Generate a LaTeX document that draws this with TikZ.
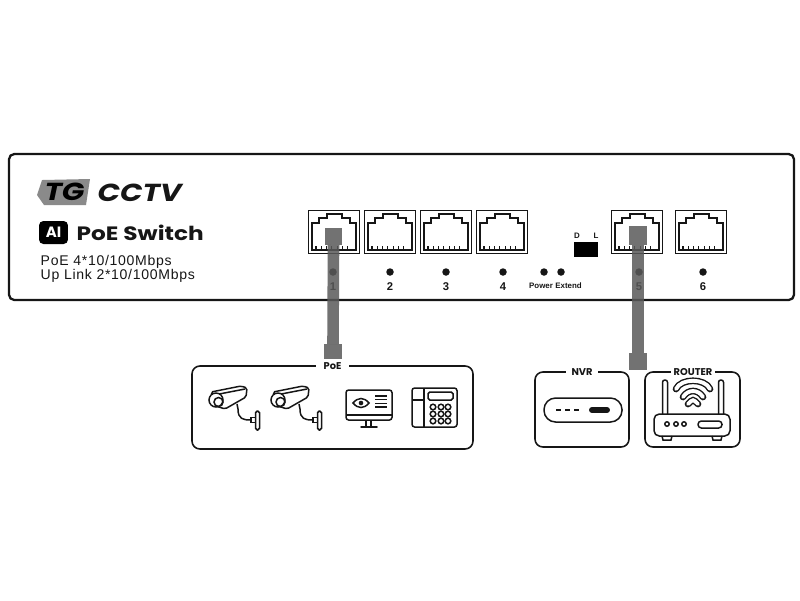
\documentclass[tikz,border=0pt]{standalone}
\usepackage{fontspec}
\setmainfont{Liberation Sans}
\newfontfamily\logofont[FakeStretch=1.2]{Poppins}
\newfontfamily\tagfont{Poppins}
\usetikzlibrary{positioning, calc}
\definecolor{cink}{HTML}{161616}
\definecolor{cplug}{HTML}{595959}
\definecolor{cbadge}{HTML}{8A8A8A}
\tikzset{
  every picture/.style={x=0.02cm, y=-0.02cm, line width=0.85pt, draw=cink, text=cink},
  frame/.style={draw=cink, line width=0.9pt, rounded corners=4.5pt},
  portbox/.style={draw=cink, line width=0.9pt, minimum width=1.02cm, minimum height=0.86cm, inner sep=0pt, outer sep=0pt},
  led/.style={circle, fill=cink, minimum size=0.15cm, inner sep=0pt},
  num/.style={font=\bfseries\fontsize{6.4}{7}\selectfont, inner sep=0pt},
  tiny/.style={font=\bfseries\fontsize{4.5}{5}\selectfont, inner sep=0pt},
  tag/.style={font=\tagfont\bfseries\fontsize{5.6}{6}\selectfont, fill=white, inner sep=0pt, minimum height=0.2cm},
  plug/.style={fill=cplug, opacity=0.85, inner sep=0pt, outer sep=0pt},
  cable/.style={draw=cplug, opacity=0.85, line width=6.6pt},
  spec/.style={font=\fontsize{8}{9}\addfontfeature{LetterSpace=5}\selectfont, inner sep=0pt, anchor=west},
  pics/rjport/.style={code={
    \draw[line width=0.7pt] (-22,18) -- (-22,-9) -- (-15,-9) -- (-15,-14) -- (-7,-14) -- (-7,-18) -- (8,-18) -- (8,-14) -- (16,-14) -- (16,-9) -- (22,-9) -- (22,18) -- cycle;
    \foreach \t in {-18,-12.7,...,19} { \draw[line width=0.6pt] (\t,18) -- (\t,14); }
  }},
  pics/camera/.style={code={
    \draw (29,18) -- (30,23) .. controls (30,33) and (35,34) .. (43,34);
    \draw[fill=white, rounded corners=1pt] (3,6) -- (33,0) -- (39,2) -- (38,11) -- (17,23) -- (8,20) -- cycle;
    \draw (6,9) -- (37,3);
    \draw[fill=white] (8,14) circle (7);
    \draw (10.5,16) circle (4.5);
    \draw[fill=white] (43,31.5) rectangle (48,36.5);
    \draw[fill=white, rounded corners=1pt] (47.5,25) rectangle (51.5,44);
  }},
}

\begin{document}
\begin{tikzpicture}
  \useasboundingbox (0,0) rectangle (800,600);
  % switch front panel
  \draw[frame, line width=1.3pt, rounded corners=3pt] (9,154) rectangle (794,300);
  \draw[fill=cbadge, draw=none] (42,180) -- (90,179) -- (86,205) -- (44,205) -- (37,195) -- cycle;
  \node[font=\logofont\bfseries\itshape\fontsize{14}{15}\selectfont, text=black, inner sep=0pt] (tg) at (64.5,192) {TG};
  \node[font=\logofont\bfseries\itshape\fontsize{14}{15}\selectfont, inner sep=0pt, anchor=west] (cctv) at (97,193) {CCTV};
  \node[fill=black, rounded corners=2.5pt, minimum width=0.58cm, minimum height=0.46cm, inner sep=0pt, text=white, font=\tagfont\bfseries\fontsize{8.5}{9}\selectfont] (ai) at (53.5,232.5) {AI};
  \node[font=\logofont\bfseries\fontsize{11}{12}\selectfont, inner sep=0pt, anchor=west] (title) at (76,233) {PoE Switch};
  \node[spec] (specA) at (40,261.5) {PoE 4*10/100Mbps};
  \node[spec] (specB) at (40,275.5) {Up Link 2*10/100Mbps};
  % ports, lamps and numbers
  \foreach \x/\lx/\i in {334/333/1, 390/390/2, 446/446/3, 502/503/4, 637/639/5, 701/703/6} {
    \node[portbox] (p\i) at (\x,232) {};
    \pic at (p\i) {rjport};
    \node[led] (l\i) at (\lx,272) {};
    \node[num] (n\i) at (\lx,287) {\i};
  }
  \node[led] (power) at (544,272) {};
  \node[led] (extend) at (561,272) {};
  \node[tiny] (powertxt) at (541,286) {Power};
  \node[tiny] (extendtxt) at (568.5,286) {Extend};
  \node[fill=black, minimum width=0.48cm, minimum height=0.3cm, inner sep=0pt] (dip) at (586,249.5) {};
  \node[tiny] (dtxt) at (577,236) {D};
  \node[tiny] (ltxt) at (596,236) {L};
  % PoE devices
  \draw[frame] (192,366) rectangle (473,449);
  \node[tag, minimum width=0.66cm] (poe) at (332.5,366) {PoE};
  \pic at (208,386) {camera};
  \pic at (270,386) {camera};
  \draw[rounded corners=1.5pt] (346,390) rectangle (392,420);
  \draw (346,415) -- (392,415);
  \draw (366,420) -- (366,427) (371,420) -- (371,427);
  \draw[line cap=round] (361,427) -- (377,427);
  \draw (353,403) .. controls (358,397) and (364,397) .. (369,403) .. controls (364,409) and (358,409) .. (353,403) -- cycle;
  \fill[cink] (361,403) circle (2.3);
  \foreach \y in {396,399.7,403.4,407} { \draw (375,\y) -- (387,\y); }
  \draw[rounded corners=1.5pt] (412,388) rectangle (457,427);
  \draw (424,388) -- (424,427) (412,400) -- (424,400);
  \draw[rounded corners=1pt] (428,392) rectangle (453,400);
  \foreach \x in {433,441,448} { \foreach \y in {407,414,421} { \draw (\x,\y) circle (2.8); } }
  % NVR
  \draw[frame] (535,372) rectangle (629,447);
  \node[tag, minimum width=0.64cm] (nvr) at (582,372) {NVR};
  \draw[rounded corners=6.6pt] (544,398) rectangle (622,422);
  \foreach \x in {556,565,574} { \draw (\x,410) -- ++(5,0); }
  \draw[line width=3.4pt, line cap=round] (592,410) -- (607,410);
  % router
  \draw[frame] (645,372) rectangle (740,447);
  \node[tag, minimum width=0.88cm] (router) at (693,372) {ROUTER};
  \foreach \x in {665,721} { \draw[rounded corners=1.3pt, fill=white] (\x-2.5,414) -- (\x-2.5,380) -- (\x+2.5,380) -- (\x+2.5,414); }
  \foreach \xa/\xb/\ya/\yb in {676/710/389/378, 683/703/397/389, 688/698/404/399} {
    \draw[line width=3.8pt, line cap=round] (\xa,\ya) .. controls (\xa+5,\yb) and (\xb-5,\yb) .. (\xb,\ya);
    \draw[line width=2.2pt, line cap=round, white] (\xa,\ya) .. controls (\xa+5,\yb) and (\xb-5,\yb) .. (\xb,\ya);
  }
  \draw[rounded corners=3pt, fill=white] (654,414) rectangle (730,436);
  \draw (662,436) -- (663,440) -- (671,440) -- (672,436) (712,436) -- (713,440) -- (721,440) -- (722,436);
  \foreach \x in {667,676,684} { \draw (\x,424) circle (2.2); }
  \draw[rounded corners=1.9pt] (698,421) rectangle (722,428);
  % cables
  \node[plug, minimum width=0.34cm, minimum height=0.34cm] (plugA) at (333.5,236.5) {};
  \node[plug, minimum width=0.36cm, minimum height=0.3cm] (poeplug) at (333,351.5) {};
  \node[plug, minimum width=0.36cm, minimum height=0.38cm] (plugB) at (638,235.5) {};
  \node[plug, minimum width=0.36cm, minimum height=0.34cm] (nvrplug) at (638,361.5) {};
  \draw[cable] (plugA.south) -- (poeplug.north);
  \draw[cable] (plugB.south) -- (nvrplug.north);
\end{tikzpicture}
\end{document}
